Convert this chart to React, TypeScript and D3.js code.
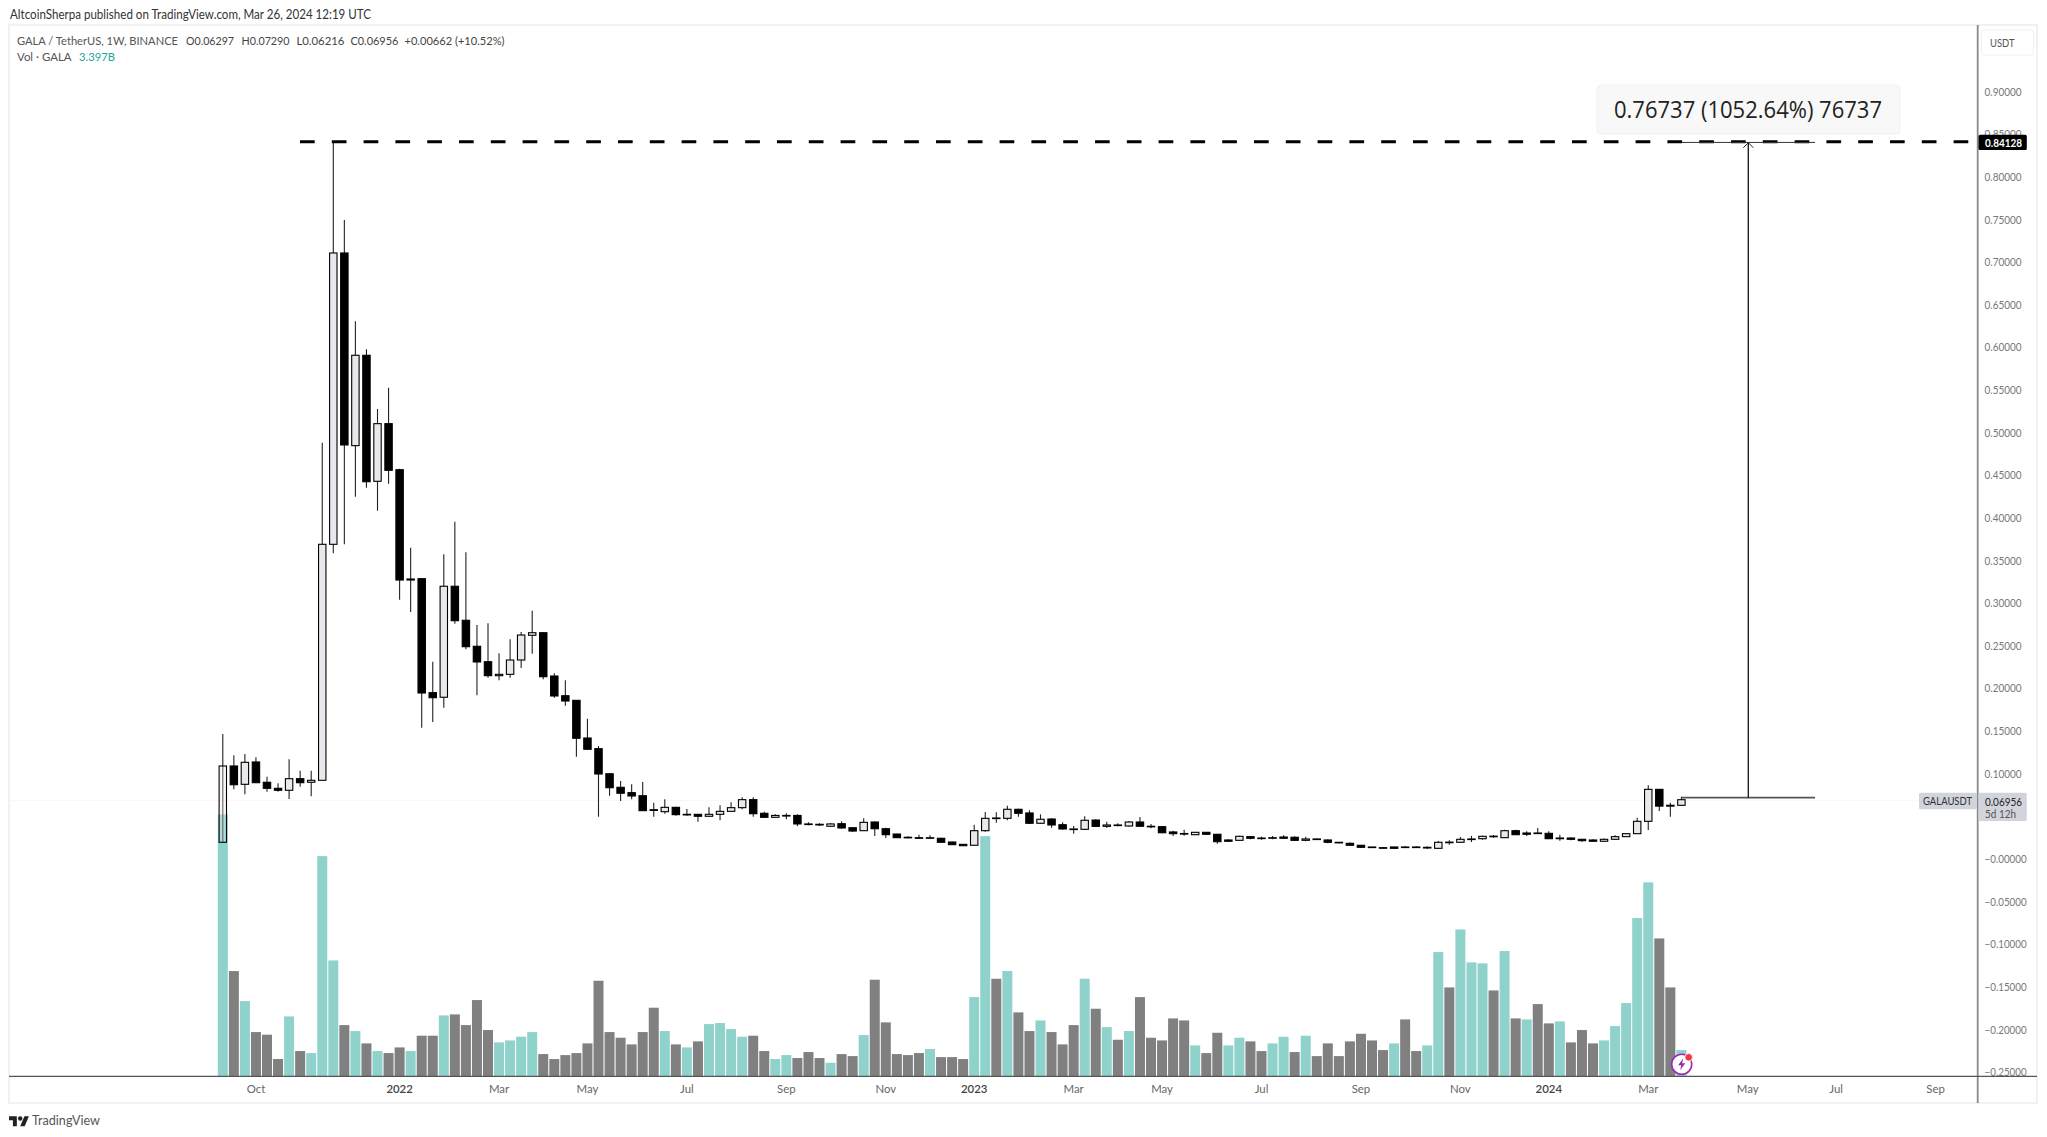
import * as d3 from "d3";

const W = 2047, H = 1137;

const opens = [
  .0196,.1091,.0876,.1138,.0900,.0829,.0806,.0942,.0900,.0923,.3691,.7108,.4848,.5908,.4430,.5106,.4566,.3272,.3288,.1951,
  .1897,.3199,.2800,.2495,.2314,.2150,.2166,.2334,.2624,.2654,.2146,.1915,.1861,.1419,.1294,.1000,.0841,.0778,.0742,.0578,
  .0555,.0606,.0520,.0524,.0501,.0524,.0559,.0602,.0696,.0536,.0489,.0511,.0511,.0411,.0407,.0384,.0414,.0367,.0332,.0434,
  .0355,.0293,.0255,.0250,.0246,.0243,.0199,.0172,.0161,.0332,.0477,.0477,.0583,.0540,.0419,.0469,.0402,.0352,.0348,.0457,
  .0383,.0399,.0387,.0434,.0384,.0379,.0317,.0297,.0285,.0313,.0290,.0223,.0219,.0262,.0243,.0246,.0258,.0255,.0219,.0235,
  .0223,.0196,.0184,.0161,.0137,.0133,.0141,.0137,.0141,.0137,.0125,.0196,.0196,.0231,.0238,.0266,.0250,.0332,.0305,.0301,
  .0301,.0238,.0246,.0231,.0223,.0208,.0231,.0262,.0297,.0442,.0817,.0620,.06297,
];
const highs = [
  .1466,.1216,.1232,.1193,.0965,.0888,.1169,.1036,.1036,.4883,.8413,.7495,.6307,.5978,.5278,.5528,.4578,.3651,.3288,.2314,
  .3574,.3956,.3597,.2745,.2765,.2413,.2577,.2662,.2912,.2659,.2178,.2096,.1861,.1646,.1325,.1000,.0915,.0876,.0903,.0660,
  .0700,.0613,.0586,.0524,.0606,.0630,.0665,.0724,.0724,.0555,.0524,.0536,.0524,.0430,.0419,.0422,.0442,.0375,.0477,.0437,
  .0367,.0297,.0266,.0285,.0278,.0250,.0205,.0176,.0402,.0551,.0548,.0625,.0590,.0571,.0524,.0477,.0430,.0387,.0501,.0466,
  .0437,.0419,.0446,.0493,.0411,.0385,.0332,.0344,.0317,.0317,.0293,.0231,.0273,.0270,.0262,.0270,.0278,.0266,.0262,.0240,
  .0231,.0200,.0196,.0164,.0141,.0141,.0145,.0152,.0150,.0149,.0211,.0219,.0258,.0270,.0273,.0281,.0344,.0344,.0325,.0364,
  .0325,.0285,.0254,.0235,.0231,.0240,.0278,.0305,.0484,.0864,.0821,.0660,.07290,
];
const lows = [
  .0196,.0818,.0759,.0895,.0789,.0789,.0704,.0848,.0735,.0923,.3586,.3691,.4249,.4355,.4085,.4402,.3041,.2897,.1540,.1607,
  .1775,.2760,.2460,.1920,.2126,.2096,.2126,.2240,.2408,.2108,.1892,.1798,.1200,.1278,.0496,.0742,.0680,.0700,.0567,.0496,
  .0531,.0508,.0508,.0437,.0496,.0454,.0555,.0583,.0496,.0485,.0485,.0466,.0384,.0395,.0387,.0375,.0355,.0317,.0328,.0270,
  .0246,.0246,.0243,.0238,.0238,.0190,.0164,.0152,.0156,.0320,.0426,.0454,.0496,.0411,.0411,.0367,.0344,.0297,.0340,.0375,
  .0364,.0384,.0377,.0375,.0360,.0303,.0270,.0273,.0281,.0285,.0179,.0203,.0215,.0231,.0226,.0231,.0238,.0215,.0208,.0228,
  .0184,.0184,.0156,.0133,.0133,.0121,.0121,.0129,.0129,.0121,.0121,.0168,.0192,.0199,.0226,.0250,.0246,.0281,.0270,.0293,
  .0235,.0215,.0219,.0203,.0204,.0204,.0228,.0258,.0293,.0340,.0563,.0496,.06216,
];
const closes = [
  .1091,.0871,.1134,.0895,.0829,.0806,.0942,.0895,.0923,.3691,.7108,.4856,.5908,.4425,.5106,.4559,.3272,.3284,.1947,.1892,
  .3199,.2795,.2490,.2311,.2150,.2166,.2334,.2627,.2654,.2138,.1912,.1853,.1416,.1287,.0997,.0836,.0771,.0739,.0567,.0570,
  .0606,.0520,.0524,.0501,.0524,.0559,.0602,.0696,.0531,.0489,.0511,.0509,.0411,.0407,.0399,.0411,.0364,.0328,.0430,.0355,
  .0285,.0250,.0255,.0246,.0250,.0196,.0168,.0156,.0332,.0477,.0481,.0583,.0536,.0419,.0466,.0399,.0352,.0348,.0454,.0383,
  .0399,.0397,.0434,.0384,.0380,.0308,.0297,.0299,.0313,.0290,.0203,.0208,.0266,.0243,.0246,.0250,.0243,.0219,.0235,.0231,
  .0196,.0194,.0161,.0137,.0141,.0129,.0125,.0141,.0137,.0129,.0196,.0198,.0231,.0235,.0266,.0268,.0332,.0285,.0290,.0305,
  .0238,.0246,.0231,.0215,.0208,.0231,.0262,.0297,.0442,.0817,.0620,.0630,.06956,
];

// volume in billions of GALA
const volumes = [
  33.8,13.59,9.72,5.72,5.38,2.24,7.74,3.27,3.01,28.42,14.96,6.62,5.85,4.26,3.27,3.01,3.74,3.27,5.25,5.25,
  7.87,8.0,6.62,9.85,5.98,4.39,4.64,5.12,5.72,2.88,2.24,2.75,3.01,4.26,12.34,5.72,4.99,4.13,5.72,8.86,
  5.85,4.13,3.74,4.52,6.75,6.88,6.11,5.12,5.25,3.27,2.24,2.75,2.37,3.14,2.37,1.76,2.88,2.62,5.33,12.47,
  6.97,2.88,2.75,3.01,3.53,2.49,2.49,2.24,10.23,31.0,12.6,13.59,8.26,5.85,7.22,5.72,4.13,6.62,12.6,8.73,
  6.36,4.73,5.85,10.23,4.99,4.64,7.48,7.22,4.0,3.01,5.63,4.0,4.99,4.52,3.27,4.26,5.12,3.14,5.25,2.62,
  4.26,2.62,4.52,5.5,4.64,3.4,4.26,7.35,3.27,4.0,16.04,11.48,18.96,14.71,14.58,11.09,16.17,7.48,7.35,9.33,
  6.84,7.1,4.39,5.98,4.26,4.64,6.49,9.46,20.43,25.03,17.8,11.48,3.397,
];
// T = teal (up week), G = grey (down week), as coloured in the picture
const volumeDir = (
  "TGTGGGTGTTTGTGTGGTGG" + "TGGGGTTTTGGGGGGGGGGG" + "TGTGTTTTGGTTGGGTGGTG" +
  "GGGGTGGGTTGTGGTGGGTG" + "TGTGGGGGTGGTTGGTTGTG" + "GGGGGGTGGTTGTTTGTGTG" + "GTGGGTTTTTGGT"
).split("");

const priceTicks = [0.9,0.85,0.8,0.75,0.7,0.65,0.6,0.55,0.5,0.45,0.4,0.35,0.3,0.25,0.2,0.15,0.1,-0,-0.05,-0.1,-0.15,-0.2,-0.25];
const dateTicks = [
  "2021-10-04","2022-01-03","2022-03-07","2022-05-02","2022-07-04","2022-09-05","2022-11-07","2023-01-02","2023-03-06",
  "2023-05-01","2023-07-03","2023-09-04","2023-11-06","2024-01-01","2024-03-04","2024-05-06","2024-07-01","2024-09-02",
];
const dateLabels = ["Oct","2022","Mar","May","Jul","Sep","Nov","2023","Mar","May","Jul","Sep","Nov","2024","Mar","May","Jul","Sep"];
const legendParts = ["O0.06297","H0.07290","L0.06216","C0.06956"];
const legendX = [186, 241.5, 296.4, 350.4];

const athPrice = 0.84128;
const lastPrice = 0.06956;
const measureFrom = 0.072;

const firstWeek = new Date(Date.UTC(2021, 8, 13));
const lastWeek = new Date(Date.UTC(2024, 2, 25));
const x = d3.scaleUtc().domain([firstWeek, lastWeek]).range([222.8, 1681.4]);
const y = d3.scaleLinear().domain([0, 0.9]).range([859, 91.66]);
const baseY = 1076.4;
const yVol = d3.scaleLinear().domain([0, 3.397]).range([baseY, baseY - 26.33]);
const weekX = (i: number) => x(d3.utcMonday.offset(firstWeek, i));

const UI = "Lato, 'Noto Sans', sans-serif";
const frame = "#eceef1";
const measureX1 = 1681.7, measureX2 = 1815, measureMid = 1748.3;

export default function App() {
  const yTop = y(athPrice), yBase = y(measureFrom);
  return (
    <svg width={W} height={H} style={{ position: "absolute", left: 0, top: 0, display: "block", background: "#fff" }} fontFamily={UI}>
      <text x={10} y={18.5} fontSize={12.4} fill="#333" textLength={361} lengthAdjust="spacingAndGlyphs">AltcoinSherpa published on TradingView.com, Mar 26, 2024 12:19 UTC</text>

      {/* frame */}
      <rect x={9} y={25} width={2028} height={1078} fill="none" stroke={frame} strokeWidth={1.6} />

      {/* last price line */}
      <line x1={9} x2={1977} y1={y(lastPrice) + 1} y2={y(lastPrice) + 1} stroke="#fdf4f1" />

      {/* volume */}
      {volumes.map((v, i) => (
        <rect key={i} x={weekX(i) - 5} width={10} y={yVol(v)} height={baseY - yVol(v)} fill={volumeDir[i] === "T" ? "#8fd2cc" : "#808080"} />
      ))}

      {/* wicks then bodies */}
      {opens.map((o, i) => (
        <line key={i} x1={weekX(i)} x2={weekX(i)} y1={y(highs[i])} y2={y(lows[i])} stroke="#222" strokeWidth={1.1} />
      ))}
      {opens.map((o, i) => {
        const c = closes[i];
        const top = y(Math.max(o, c));
        const h = Math.max(0.6, Math.abs(y(o) - y(c)));
        const up = c >= o;
        return (
          <rect key={i} x={weekX(i) - 3.7} width={7.4} y={top} height={h}
            fill={up ? "#e9e9ed" : "#000"} fillOpacity={up ? (i === 0 ? 0.35 : 1) : 1} stroke="#000" strokeWidth={1.1} />
        );
      })}

      {/* all time high line */}
      <line x1={300} x2={1977} y1={yTop} y2={yTop} stroke="#000" strokeWidth={3} strokeDasharray="14.7 17.1" />

      {/* price range measure */}
      <line x1={measureX1} x2={measureX2} y1={yTop + 0.7} y2={yTop + 0.7} stroke="#333" strokeWidth={1} />
      <line x1={measureX1} x2={measureX2} y1={yBase} y2={yBase} stroke="#555" strokeWidth={1.7} />
      <line x1={measureMid} x2={measureMid} y1={yTop + 1} y2={yBase} stroke="#111" strokeWidth={1.3} />
      <path d={`M${measureMid - 5},${yTop + 6} L${measureMid},${yTop + 1} L${measureMid + 5},${yTop + 6}`} fill="none" stroke="#222" />
      <rect x={1597} y={85} width={303} height={49} rx={4} fill="#f8f8f8" stroke="#f1f1f1" />
      <text x={1614} y={118} fontSize={23.5} fill="#222" fontFamily="'Open Sans', sans-serif" textLength={268} lengthAdjust="spacingAndGlyphs">0.76737 (1052.64%) 76737</text>

      {/* legend */}
      <text x={17} y={44.5} fontSize={11.8} fill="#555" textLength={161} lengthAdjust="spacingAndGlyphs">GALA / TetherUS, 1W, BINANCE</text>
      {legendParts.map((s, i) => (
        <text key={s} x={legendX[i]} y={44.5} fontSize={11.8} fill="#444" textLength={48} lengthAdjust="spacingAndGlyphs">{s}</text>
      ))}
      <text x={404.5} y={44.5} fontSize={11.8} fill="#444" textLength={100} lengthAdjust="spacingAndGlyphs">+0.00662 (+10.52%)</text>
      <text x={17} y={61} fontSize={11.8} fill="#555" textLength={54.5} lengthAdjust="spacingAndGlyphs">Vol · GALA</text>
      <text x={79} y={61} fontSize={11.8} fill="#26a69a" textLength={36} lengthAdjust="spacingAndGlyphs">3.397B</text>

      {/* price axis */}
      <line x1={1977.7} x2={1977.7} y1={25} y2={1103} stroke="#8a8a8a" strokeWidth={1.8} />
      <rect x={1981.5} y={30} width={52} height={25} rx={3} fill="#fff" stroke="#eef0f3" />
      <text x={1990} y={47} fontSize={11.5} fill="#555" textLength={24.5} lengthAdjust="spacingAndGlyphs">USDT</text>
      {priceTicks.map((t) => (
        <text key={t} x={1984.6} y={y(t) + 4} fontSize={11.2} fill="#777" textLength={t <= 0 ? 42 : 37} lengthAdjust="spacingAndGlyphs">
          {(t <= 0 ? "\u2212" : "") + Math.abs(t).toFixed(5)}
        </text>
      ))}

      {/* baseline */}
      <line x1={9} x2={2037} y1={baseY} y2={baseY} stroke="#555" strokeWidth={1.1} />

      {/* tags */}
      <rect x={1978.5} y={134.7} width={48.3} height={15.3} rx={1.5} fill="#000" />
      <text x={1985} y={146.5} fontSize={11.2} fontWeight={700} fill="#fff" textLength={37} lengthAdjust="spacingAndGlyphs">{athPrice.toFixed(5)}</text>
      <rect x={1919} y={792.7} width={58} height={16.6} rx={1.5} fill="#d1d4dc" />
      <text x={1923} y={805} fontSize={11.2} fill="#333" textLength={49} lengthAdjust="spacingAndGlyphs">GALAUSDT</text>
      <rect x={1978.5} y={792.7} width={48.3} height={28.3} rx={1.5} fill="#d1d4dc" />
      <text x={1985} y={805.6} fontSize={11.2} fill="#222" textLength={37} lengthAdjust="spacingAndGlyphs">{lastPrice.toFixed(5)}</text>
      <text x={1985} y={818} fontSize={11.2} fill="#555" textLength={31} lengthAdjust="spacingAndGlyphs">5d 12h</text>

      {/* time axis */}
      {dateTicks.map((d, i) => {
        const isYear = /\d/.test(dateLabels[i]);
        return (
          <text key={d} x={x(new Date(d))} y={1093} textAnchor="middle" fontSize={11.4} fill={isYear ? "#444" : "#666"} fontWeight={isYear ? 600 : 400}>
            {dateLabels[i]}
          </text>
        );
      })}

      {/* flash badge */}
      <g transform="translate(1681.7,1064.3)">
        <circle r={10} fill="#fff" stroke="#9c27b0" strokeWidth={1.6} />
        <path d="M1.6,-6 L-3.6,1 L-0.4,1 L-1.6,6 L3.6,-1 L0.4,-1 Z" fill="#9c27b0" />
        <circle cx={7} cy={-7} r={3.8} fill="#f23645" stroke="#fff" strokeWidth={0.8} />
      </g>

      {/* TradingView mark */}
      <g transform="translate(9,1114) scale(0.56)" fill="#222">
        <path d="M14 22H7V11H0V4h14v18zM28 22h-8l7.5-18h8L28 22z" />
        <circle cx="20" cy="8" r="4" />
      </g>
      <text x={32} y={1125} fontSize={14} fill="#555" textLength={68} lengthAdjust="spacingAndGlyphs">TradingView</text>
    </svg>
  );
}
